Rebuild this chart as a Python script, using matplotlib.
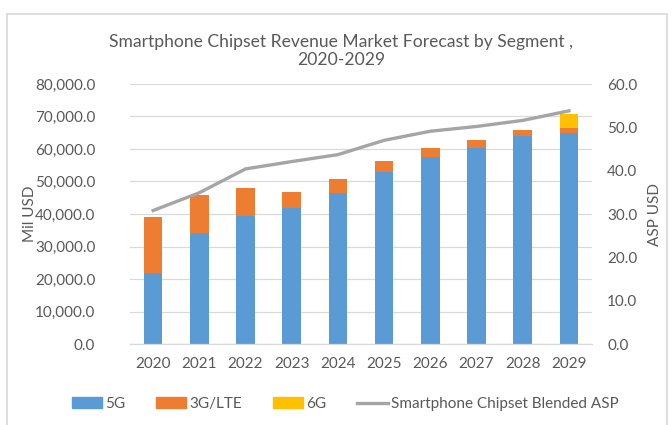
import matplotlib
matplotlib.use("Agg")
import matplotlib.pyplot as plt
from matplotlib.patches import Patch
from matplotlib.lines import Line2D

years = ["2020", "2021", "2022", "2023", "2024", "2025", "2026", "2027", "2028", "2029"]
rev_5g = [21800, 34300, 39500, 41900, 46500, 52800, 57400, 60300, 63900, 64900]
rev_3g = [17400, 11600, 8600, 5000, 4300, 3500, 2900, 2600, 1800, 1600]
rev_6g = [0, 0, 0, 0, 0, 0, 0, 0, 0, 4300]
asp = [30.8, 34.9, 40.4, 42.1, 43.7, 47.0, 49.1, 50.2, 51.6, 53.8]

left_ticks = [0, 10000, 20000, 30000, 40000, 50000, 60000, 70000, 80000]
right_ticks = [0, 10, 20, 30, 40, 50, 60]

c5 = "#5B9BD5"
c3 = "#ED7D31"
c6 = "#FFC000"
cl = "#A5A5A5"
tc = "#595959"
gc = "#D9D9D9"

plt.rcParams['font.family'] = ['Lato', 'DejaVu Sans']

W, H = 672, 425
fig = plt.figure(figsize=(W / 100, H / 100), dpi=100)

ax = fig.add_axes([130 / W, (H - 344) / H, (592 - 130) / W, (344 - 84) / H])
x = list(range(len(years)))
bw = 0.4
ax.bar(x, rev_5g, bw, color=c5, zorder=2)
ax.bar(x, rev_3g, bw, bottom=rev_5g, color=c3, zorder=2)
bot6 = [a + b for a, b in zip(rev_5g, rev_3g)]
ax.bar(x, rev_6g, bw, bottom=bot6, color=c6, zorder=2)

ax.set_xlim(-0.5, len(years) - 0.5)
ax.set_ylim(0, 80000)
ax.set_yticks(left_ticks)
ax.set_yticklabels([f"{v:,.1f}" for v in left_ticks])
ax.set_xticks(x)
ax.set_xticklabels(years)
ax.tick_params(axis='both', length=0, labelsize=11, colors=tc)
ax.tick_params(axis='y', pad=25)
ax.tick_params(axis='x', pad=9)
ax.grid(axis='y', color=gc, linewidth=0.9, zorder=0)
ax.set_axisbelow(True)
for s in ['top', 'right', 'left']:
    ax.spines[s].set_visible(False)
ax.spines['bottom'].set_color(gc)
ax.spines['bottom'].set_linewidth(0.9)

ax2 = ax.twinx()
ax2.plot(x, asp, color=cl, linewidth=2.4, zorder=3)
ax2.set_ylim(0, 60)
ax2.set_yticks(right_ticks)
ax2.set_yticklabels([f"{v:.1f}" for v in right_ticks])
ax2.tick_params(axis='y', length=0, labelsize=11, colors=tc, pad=11)
for s in ax2.spines.values():
    s.set_visible(False)

fig.text(30 / W, 1 - 214 / H, "Mil USD", rotation=90, ha='center', va='center', fontsize=11, color=tc)
fig.text(655 / W, 1 - 214 / H, "ASP USD", rotation=90, ha='center', va='center', fontsize=11, color=tc)

fig.text(341 / W, 1 - 51 / H, "Smartphone Chipset Revenue Market Forecast by Segment ,\n2020-2029",
         ha='center', va='center', fontsize=12.6, color=tc, linespacing=1.15)

handles = [Patch(color=c5, label="5G"), Patch(color=c3, label="3G/LTE"), Patch(color=c6, label="6G"),
           Line2D([0], [0], color=cl, linewidth=2.4, label="Smartphone Chipset Blended ASP")]
leg = fig.legend(handles=handles, loc='center', bbox_to_anchor=(345 / W, 1 - 404 / H), ncol=4,
                 frameon=False, fontsize=11, handlelength=2.0, handleheight=0.7, handletextpad=0.2,
                 columnspacing=2.0)
for t in leg.get_texts():
    t.set_color(tc)

# outer frame
fc = "#D9D9D9"
fig.add_artist(Line2D([7 / W, 7 / W], [0, 1 - 14 / H], color=fc, linewidth=1.2, transform=fig.transFigure))
fig.add_artist(Line2D([7 / W, 667 / W], [1 - 14 / H, 1 - 14 / H], color=fc, linewidth=1.2, transform=fig.transFigure))
fig.add_artist(Line2D([667 / W, 667 / W], [0, 1 - 14 / H], color=fc, linewidth=1.2, transform=fig.transFigure))

fig.savefig("out.png", dpi=100, facecolor='white')
